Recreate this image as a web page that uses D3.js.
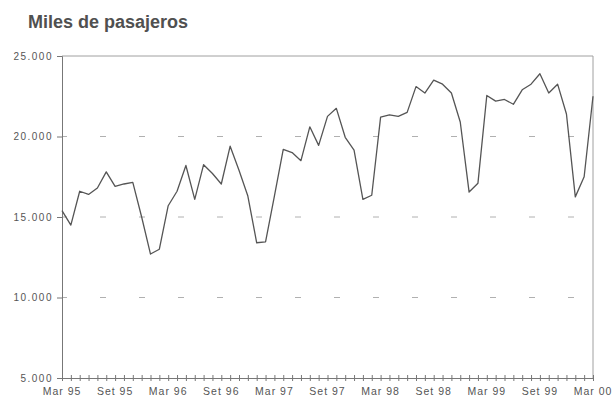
<!DOCTYPE html>
<html>
<head>
<meta charset="utf-8">
<script src="https://cdn.jsdelivr.net/npm/d3@7"></script>
<style>
  html, body { margin: 0; padding: 0; background: #ffffff; }
  svg { display: block; }
  text { font-family: "Liberation Sans", Arial, sans-serif; fill: #4a4a4a; }
</style>
</head>
<body>
<svg id="chart" width="616" height="401"></svg>
<script>
// ---- data ----
const months = [
  "Mar 95","Abr 95","May 95","Jun 95","Jul 95","Ago 95","Set 95","Oct 95","Nov 95","Dic 95","Ene 96","Feb 96",
  "Mar 96","Abr 96","May 96","Jun 96","Jul 96","Ago 96","Set 96","Oct 96","Nov 96","Dic 96","Ene 97","Feb 97",
  "Mar 97","Abr 97","May 97","Jun 97","Jul 97","Ago 97","Set 97","Oct 97","Nov 97","Dic 97","Ene 98","Feb 98",
  "Mar 98","Abr 98","May 98","Jun 98","Jul 98","Ago 98","Set 98","Oct 98","Nov 98","Dic 98","Ene 99","Feb 99",
  "Mar 99","Abr 99","May 99","Jun 99","Jul 99","Ago 99","Set 99","Oct 99","Nov 99","Dic 99","Ene 00","Feb 00",
  "Mar 00"
];
const passengers = [
  15400, 14500, 16600, 16400, 16800, 17800, 16900, 17050, 17150, 15000, 12700, 13000,
  15700, 16600, 18200, 16100, 18250, 17700, 17050, 19400, 17900, 16300, 13400, 13450,
  16300, 19200, 19000, 18500, 20600, 19450, 21250, 21750, 19950, 19150, 16100, 16350,
  21200, 21350, 21250, 21500, 23100, 22700, 23500, 23250, 22700, 20900, 16550, 17100,
  22550, 22200, 22300, 22000, 22900, 23250, 23900, 22700, 23250, 21400, 16250, 17500,
  22500
];
const xTickLabels = ["Mar 95","Set 95","Mar 96","Set 96","Mar 97","Set 97","Mar 98","Set 98","Mar 99","Set 99","Mar 00"];
const yTicks = [5000, 10000, 15000, 20000, 25000];
const gridValues = [10000, 15000, 20000];
const title = "Miles de pasajeros";

// ---- layout ----
const svg = d3.select("#chart");
const mLeft = 62, mRight = 593, mTop = 56, mBottom = 378;

const x = d3.scalePoint().domain(months).range([mLeft, mRight]);
const y = d3.scaleLinear().domain([5000, 25000]).range([mBottom, mTop]);
const fmt = v => d3.format(",")(v).replace(/,/g, ".");

// title
svg.append("text")
  .attr("x", 28).attr("y", 28)
  .attr("font-size", 18).attr("font-weight", "bold")
  .style("fill", "#505050")
  .text(title);

// dashed gridlines
svg.append("g").selectAll("line").data(gridValues).join("line")
  .attr("x1", mLeft).attr("x2", mRight)
  .attr("y1", d => y(d)).attr("y2", d => y(d))
  .attr("stroke", "#b0b0b0").attr("stroke-width", 1)
  .attr("stroke-dasharray", "6,33").attr("stroke-dashoffset", 1);

// frame: top and right
svg.append("line").attr("x1", mLeft).attr("x2", mRight).attr("y1", y(25000)).attr("y2", y(25000))
  .attr("stroke", "#a0a0a0").attr("stroke-width", 1);
svg.append("line").attr("x1", mRight).attr("x2", mRight).attr("y1", y(25000)).attr("y2", y(5000))
  .attr("stroke", "#a0a0a0").attr("stroke-width", 1);

// y axis
const yAxis = d3.axisLeft(y).tickValues(yTicks).tickFormat(fmt).tickSize(5).tickPadding(4);
const gy = svg.append("g").attr("transform", `translate(${mLeft},0)`).call(yAxis);
gy.select(".domain").attr("stroke", "#777");
gy.selectAll(".tick line").attr("stroke", "#777");
gy.selectAll("text").attr("font-size", 10).style("letter-spacing", "1.5px")
  .style("font-family", "'Liberation Sans', Arial, sans-serif").style("fill", "#555");

// x axis: month ticks crossing the axis
const xAxis = d3.axisBottom(x).tickValues(months).tickSize(3).tickFormat("");
const gx = svg.append("g").attr("transform", `translate(0,${mBottom})`).call(xAxis);
gx.select(".domain").attr("stroke", "#777");
gx.selectAll(".tick line").attr("stroke", "#777").attr("y1", -3).attr("y2", 3);

// x labels
svg.append("g").selectAll("text").data(xTickLabels).join("text")
  .attr("x", d => x(d)).attr("y", 395)
  .attr("text-anchor", "middle")
  .attr("font-size", 10.5)
  .style("letter-spacing", "1px")
  .style("fill", "#555")
  .text(d => d);

// series line
const line = d3.line()
  .x((d, i) => x(months[i]))
  .y(d => y(d));
svg.append("path").datum(passengers)
  .attr("d", line)
  .attr("fill", "none")
  .attr("stroke", "#555555")
  .attr("stroke-width", 1.3)
  .attr("stroke-linejoin", "round");
</script>
</body>
</html>
